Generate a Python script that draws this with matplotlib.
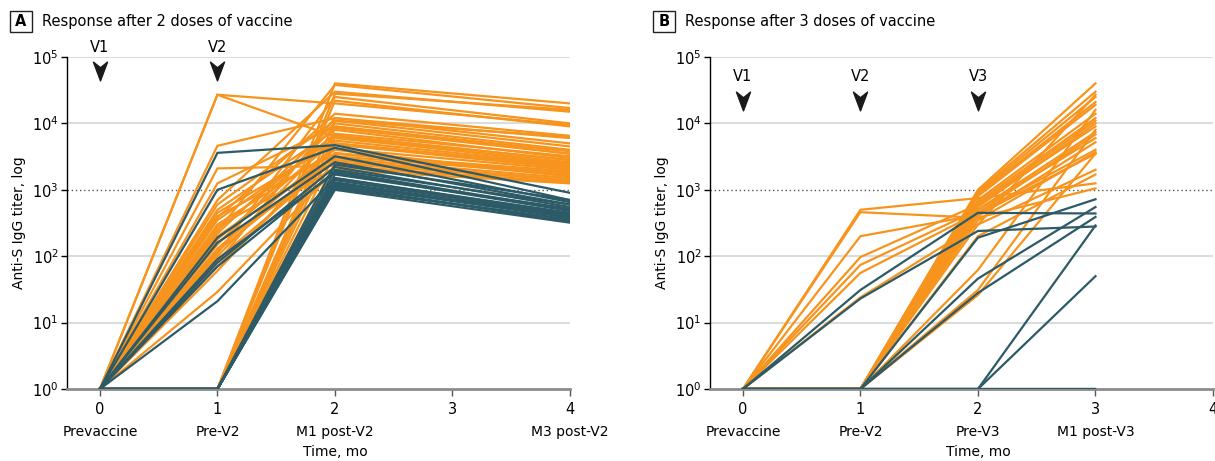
import matplotlib
matplotlib.use("Agg")
import matplotlib.pyplot as plt
from matplotlib.path import Path
from matplotlib.patches import Rectangle

plt.rcParams['font.family'] = ['DejaVu Sans']

ORANGE = '#F7941D'
TEAL = '#2C5A66'

# Panel A: titers at Prevaccine (t=0), Pre-V2 (t=1), M1 post-V2 (t=2), M3 post-V2 (t=4)
a_times = [0, 1, 2, 4]
a_orange_pre = [27000, 27000, 4600, 2100, 1250, 700, 600, 500, 450, 400, 380, 350, 300, 280,
                250, 220, 200, 180, 160, 150, 130, 120, 110, 100, 90, 80, 70, 29, 60, 240,
                1, 1, 1, 1, 1, 1, 1, 1, 1]
a_orange_m1 = [20000, 6300, 12000, 2300, 9000, 30000, 11000, 8000, 5000, 3500, 14000, 6000, 4000, 2600,
               7000, 10000, 3000, 5500, 2200, 9000, 4200, 3200, 25000, 6500, 2800, 12000, 3600, 2000, 4800, 38000,
               40000, 22000, 11000, 8500, 6600, 5000, 3500, 2500, 28000]
a_orange_m3 = [9500, 2500, 6000, 1300, 3500, 15000, 4500, 3000, 2200, 1800, 6500, 2600, 1600, 1400,
               3200, 4000, 1500, 2400, 1300, 3800, 2000, 1700, 10000, 2800, 1400, 5000, 1600, 1250, 2100, 17000,
               20000, 9000, 6300, 3500, 2800, 2300, 1900, 1400, 16000]
a_teal_pre = [3600, 1000, 190, 160, 80, 70, 21, 90, 1, 1, 1, 1, 1, 1, 1, 1, 1, 1, 1, 1]
a_teal_m1 = [4700, 4300, 3200, 2600, 2200, 1900, 1500, 1800, 1000, 1100, 1200, 1300, 1400, 1500,
             1050, 1150, 1700, 2000, 1250, 2400]
a_teal_m3 = [900, 700, 650, 600, 550, 500, 450, 480, 320, 350, 380, 400, 420, 440,
             360, 330, 520, 600, 390, 700]
a_ticklabels = ['Prevaccine', 'Pre-V2', 'M1 post-V2', '', 'M3 post-V2']
a_doses = ['V1', 'V2']

# Panel B: titers at Prevaccine (t=0), Pre-V2 (t=1), Pre-V3 (t=2), M1 post-V3 (t=3)
b_times = [0, 1, 2, 3]
b_orange_pre2 = [500, 460, 200, 97, 74, 56, 24, 1, 1, 1, 1, 1, 1, 1, 1, 1, 1, 1, 1, 1, 1, 1, 1, 1, 1]
b_orange_pre3 = [750, 380, 420, 600, 500, 450, 300, 1000, 950, 900, 850, 800, 700, 650, 600, 550,
                 500, 450, 400, 350, 300, 62, 31, 26, 200]
b_orange_m1 = [1250, 1050, 3500, 9000, 6000, 4000, 2000, 40000, 30000, 25000, 21000, 19000, 14000,
               12000, 11000, 10000, 7400, 6800, 5200, 3700, 27000, 16000, 8000, 3500, 1700]
b_teal_pre2 = [31, 23, 1, 1, 1, 1, 1, 1, 1]
b_teal_pre3 = [450, 240, 190, 46, 28, 1, 1, 1, 1]
b_teal_m1 = [440, 280, 720, 550, 390, 290, 50, 1, 1]
b_ticklabels = ['Prevaccine', 'Pre-V2', 'Pre-V3', 'M1 post-V3', '']
b_doses = ['V1', 'V2', 'V3']

arrow = Path([(-0.75, 1), (0, -1), (0.75, 1), (0, 0.4), (-0.75, 1)],
             [Path.MOVETO, Path.LINETO, Path.LINETO, Path.LINETO, Path.CLOSEPOLY])

W, H = 1215, 461
fig = plt.figure(figsize=(W / 100, H / 100), dpi=100)


def panel(left, letter, title, orange_rows, teal_rows, times, ticklabels, doses, text_y, arrow_y):
    ax = fig.add_axes([left / W, 1 - 389 / H, 503 / W, 332 / H])
    ax.set_yscale('log')
    ax.set_ylim(1, 1e5)
    ax.set_xlim(-0.28, 4)
    for v in [1e1, 1e2, 1e4, 1e5]:
        ax.axhline(v, color='#DCDCDC', lw=1.5, zorder=0)
    ax.axhline(1e3, color='#555555', lw=1, ls=(0, (1, 2)), zorder=0)
    for row in zip(*orange_rows):
        ax.plot(times, [1] + list(row), color=ORANGE, lw=1.6, solid_joinstyle='miter', zorder=2)
    for row in zip(*teal_rows):
        ax.plot(times, [1] + list(row), color=TEAL, lw=1.6, solid_joinstyle='miter', zorder=3)
    for i, d in enumerate(doses):
        ax.text(i, text_y, d, ha='center', va='center', fontsize=10.5, clip_on=False)
        ax.plot(i, arrow_y, marker=arrow, ms=13.5, color='#1a1a1a', clip_on=False, zorder=5)
    for s in ['top', 'right']:
        ax.spines[s].set_visible(False)
    ax.spines['bottom'].set_color('#8C8C8C')
    ax.spines['bottom'].set_linewidth(2)
    ax.spines['left'].set_linewidth(1)
    ax.set_yticks([1, 10, 100, 1e3, 1e4, 1e5])
    ax.set_yticklabels(['$10^{%d}$' % k for k in range(6)], fontsize=10.5)
    ax.yaxis.set_minor_locator(plt.NullLocator())
    ax.set_xticks(range(5))
    ax.set_xticklabels([str(k) for k in range(5)], fontsize=10.5)
    ax.tick_params(axis='x', color='#555555', length=5, width=1, pad=4)
    ax.tick_params(axis='y', length=4, width=1, pad=2)
    for i, lab in enumerate(ticklabels):
        ax.text(i, -0.13, lab, transform=ax.get_xaxis_transform(), ha='center', va='center', fontsize=10)
    ax.text(2, -0.19, 'Time, mo', transform=ax.get_xaxis_transform(), ha='center', va='center', fontsize=10)
    ax.set_ylabel('Anti-S IgG titer, log', fontsize=10, labelpad=4)
    bx = left - 57
    fig.add_artist(Rectangle((bx / W, 1 - 32 / H), 22 / W, 21 / H, transform=fig.transFigure,
                             fill=False, edgecolor='#222222', lw=1))
    fig.text((bx + 11) / W, 1 - 21.5 / H, letter, ha='center', va='center', fontsize=10.5, fontweight='bold')
    fig.text((bx + 32) / W, 1 - 21.5 / H, title, ha='left', va='center', fontsize=10.5)
    return ax


panel(67, 'A', 'Response after 2 doses of vaccine',
      [a_orange_pre, a_orange_m1, a_orange_m3], [a_teal_pre, a_teal_m1, a_teal_m3],
      a_times, a_ticklabels, a_doses, 10 ** 5.14, 10 ** 4.79)
panel(710, 'B', 'Response after 3 doses of vaccine',
      [b_orange_pre2, b_orange_pre3, b_orange_m1], [b_teal_pre2, b_teal_pre3, b_teal_m1],
      b_times, b_ticklabels, b_doses, 10 ** 4.70, 10 ** 4.34)

fig.savefig('out.png', dpi=100)
